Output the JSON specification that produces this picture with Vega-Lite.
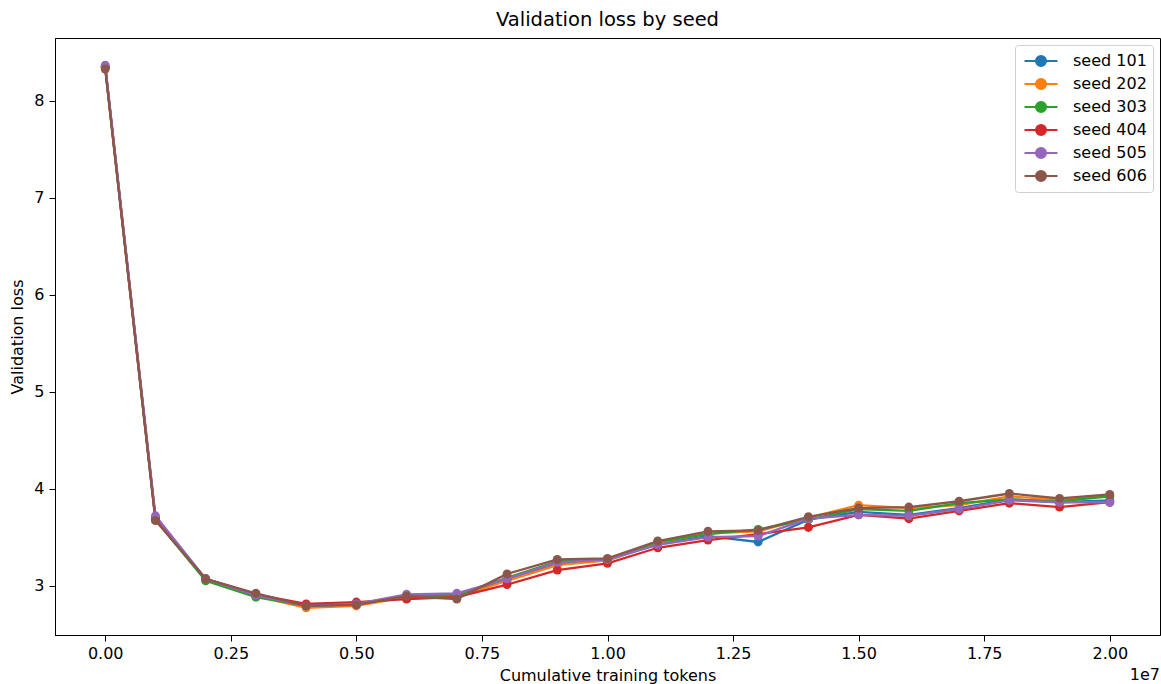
{
  "$schema": "https://vega.github.io/schema/vega-lite/v6.json",
  "width": 1105,
  "height": 597,
  "autosize": {"type": "none"},
  "padding": {"left": 55, "top": 38, "right": 1, "bottom": 49},
  "background": "white",
  "config": {
    "font": "DejaVu Sans",
    "view": {"stroke": "black", "strokeWidth": 1},
    "axis": {
      "grid": false,
      "domainColor": "black",
      "tickColor": "black",
      "tickSize": 6,
      "labelFontSize": 16,
      "labelColor": "black",
      "titleFontSize": 16,
      "titleFontWeight": "normal",
      "titleColor": "black",
      "labelPadding": 4
    },
    "title": {"fontSize": 19.5, "fontWeight": "normal", "color": "black", "offset": 8}
  },
  "title": "Validation loss by seed",
  "layer": [
    {
      "data": {
        "values": [
          {"tokens": 0, "seed 101": 8.35, "seed 202": 8.35, "seed 303": 8.35, "seed 404": 8.35, "seed 505": 8.37, "seed 606": 8.33},
          {"tokens": 1000000, "seed 101": 3.69, "seed 202": 3.69, "seed 303": 3.68, "seed 404": 3.69, "seed 505": 3.72, "seed 606": 3.67},
          {"tokens": 2000000, "seed 101": 3.06, "seed 202": 3.06, "seed 303": 3.05, "seed 404": 3.07, "seed 505": 3.07, "seed 606": 3.07},
          {"tokens": 3000000, "seed 101": 2.89, "seed 202": 2.89, "seed 303": 2.88, "seed 404": 2.91, "seed 505": 2.90, "seed 606": 2.92},
          {"tokens": 4000000, "seed 101": 2.79, "seed 202": 2.77, "seed 303": 2.79, "seed 404": 2.81, "seed 505": 2.79, "seed 606": 2.79},
          {"tokens": 5000000, "seed 101": 2.80, "seed 202": 2.79, "seed 303": 2.81, "seed 404": 2.83, "seed 505": 2.81, "seed 606": 2.80},
          {"tokens": 6000000, "seed 101": 2.90, "seed 202": 2.88, "seed 303": 2.89, "seed 404": 2.86, "seed 505": 2.91, "seed 606": 2.89},
          {"tokens": 7000000, "seed 101": 2.90, "seed 202": 2.88, "seed 303": 2.90, "seed 404": 2.88, "seed 505": 2.92, "seed 606": 2.86},
          {"tokens": 8000000, "seed 101": 3.06, "seed 202": 3.05, "seed 303": 3.08, "seed 404": 3.01, "seed 505": 3.07, "seed 606": 3.12},
          {"tokens": 9000000, "seed 101": 3.23, "seed 202": 3.21, "seed 303": 3.25, "seed 404": 3.16, "seed 505": 3.24, "seed 606": 3.27},
          {"tokens": 10000000, "seed 101": 3.26, "seed 202": 3.26, "seed 303": 3.27, "seed 404": 3.23, "seed 505": 3.27, "seed 606": 3.28},
          {"tokens": 11000000, "seed 101": 3.43, "seed 202": 3.44, "seed 303": 3.45, "seed 404": 3.39, "seed 505": 3.42, "seed 606": 3.46},
          {"tokens": 12000000, "seed 101": 3.51, "seed 202": 3.54, "seed 303": 3.53, "seed 404": 3.47, "seed 505": 3.50, "seed 606": 3.56},
          {"tokens": 13000000, "seed 101": 3.45, "seed 202": 3.56, "seed 303": 3.58, "seed 404": 3.53, "seed 505": 3.51, "seed 606": 3.57},
          {"tokens": 14000000, "seed 101": 3.68, "seed 202": 3.70, "seed 303": 3.68, "seed 404": 3.60, "seed 505": 3.69, "seed 606": 3.71},
          {"tokens": 15000000, "seed 101": 3.76, "seed 202": 3.83, "seed 303": 3.79, "seed 404": 3.73, "seed 505": 3.73, "seed 606": 3.80},
          {"tokens": 16000000, "seed 101": 3.73, "seed 202": 3.80, "seed 303": 3.77, "seed 404": 3.69, "seed 505": 3.72, "seed 606": 3.81},
          {"tokens": 17000000, "seed 101": 3.80, "seed 202": 3.83, "seed 303": 3.85, "seed 404": 3.77, "seed 505": 3.79, "seed 606": 3.87},
          {"tokens": 18000000, "seed 101": 3.89, "seed 202": 3.92, "seed 303": 3.89, "seed 404": 3.85, "seed 505": 3.88, "seed 606": 3.95},
          {"tokens": 19000000, "seed 101": 3.86, "seed 202": 3.89, "seed 303": 3.87, "seed 404": 3.81, "seed 505": 3.86, "seed 606": 3.90},
          {"tokens": 20000000, "seed 101": 3.88, "seed 202": 3.93, "seed 303": 3.92, "seed 404": 3.86, "seed 505": 3.86, "seed 606": 3.94}
        ]
      },
      "transform": [
        {"fold": ["seed 101", "seed 202", "seed 303", "seed 404", "seed 505", "seed 606"], "as": ["seed", "loss"]}
      ],
      "mark": {"type": "line", "strokeWidth": 2.3, "point": {"filled": true, "size": 80, "opacity": 1}},
      "encoding": {
        "x": {
          "field": "tokens", "type": "quantitative",
          "scale": {"domain": [-1000000, 21000000], "nice": false, "zero": false},
          "axis": {
            "title": "Cumulative training tokens",
            "values": [0, 2500000, 5000000, 7500000, 10000000, 12500000, 15000000, 17500000, 20000000],
            "labelExpr": "format(datum.value / 10000000, '.2f')",
            "titlePadding": 6
          }
        },
        "y": {
          "field": "loss", "type": "quantitative",
          "scale": {"domain": [2.49, 8.65], "nice": false, "zero": false},
          "axis": {"title": "Validation loss", "values": [3, 4, 5, 6, 7, 8], "format": "d", "titlePadding": 8, "labelPadding": 5}
        },
        "color": {
          "field": "seed", "type": "nominal",
          "scale": {
            "domain": ["seed 101", "seed 202", "seed 303", "seed 404", "seed 505", "seed 606"],
            "range": ["#1f77b4", "#ff7f0e", "#2ca02c", "#d62728", "#9467bd", "#8c564b"]
          },
          "legend": {
            "title": null,
            "orient": "top-right",
            "offset": 7,
            "padding": 6,
            "fillColor": "white",
            "strokeColor": "#d0d0d0",
            "cornerRadius": 3,
            "labelFontSize": 16,
            "labelColor": "black",
            "rowPadding": 3,
            "labelOffset": 22,
            "symbolOffset": 10,
            "symbolType": "M-1.94,0L1.94,0M-0.58,0a0.58,0.58 0 1,0 1.16,0a0.58,0.58 0 1,0 -1.16,0",
            "symbolSize": 289,
            "symbolStrokeWidth": 2.2,
            "encode": {
              "symbols": {"update": {"fill": {"scale": "color", "field": "value"}, "stroke": {"scale": "color", "field": "value"}, "opacity": {"value": 1}}}
            }
          }
        }
      }
    },
    {
      "data": {"values": [{"label": "1e7", "xpos": 21000000, "ypos": 2.49}]},
      "mark": {"type": "text", "align": "right", "baseline": "alphabetic", "dy": 45, "fontSize": 16, "fontWeight": "normal", "color": "black"},
      "encoding": {
        "x": {"field": "xpos", "type": "quantitative"},
        "y": {"field": "ypos", "type": "quantitative"},
        "text": {"field": "label"}
      }
    }
  ]
}
